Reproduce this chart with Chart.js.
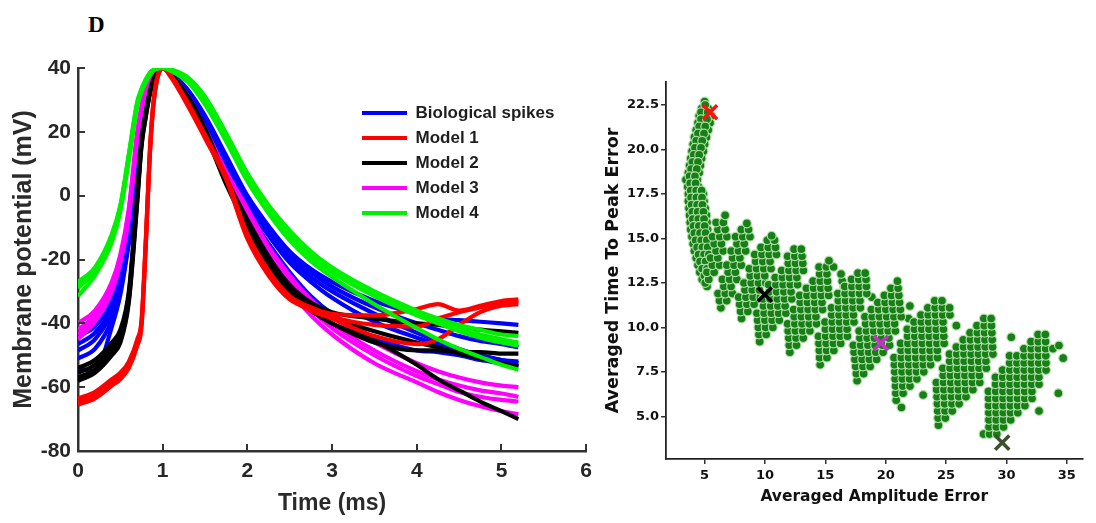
<!DOCTYPE html>
<html><head><meta charset="utf-8">
<script src="https://cdn.jsdelivr.net/npm/chart.js@4.4.0/dist/chart.umd.min.js"></script>
<style>
html,body{margin:0;padding:0;background:#fff;width:1096px;height:523px;overflow:hidden}
#left{position:absolute;left:0;top:0}
#right{position:absolute;left:600px;top:0}
#panel{position:absolute;left:88px;top:13px;font:bold 23px "Liberation Serif","DejaVu Serif",serif;color:#000;line-height:1}
</style></head><body>
<div id="panel">D</div>
<canvas id="left" width="600" height="523"></canvas>
<canvas id="right" width="496" height="523"></canvas>
<script>
// ---------------- Left panel: spike waveforms ----------------
const timeMs = [0, 0.2, 0.4, 0.5, 0.6, 0.7, 0.75, 0.8, 0.85, 0.9, 1.0, 1.1, 1.3, 1.5, 1.75, 2.0, 2.25, 2.5, 2.75, 3.0, 3.5, 4.0, 4.25, 4.5, 4.75, 5.0, 5.2];
const leftXTicks = [0, 1, 2, 3, 4, 5, 6];
const leftYTicks = [-80, -60, -40, -20, 0, 20, 40];

const bio1 = [-44, -41, -33, -25, -11, 7, 20, 29, 34.5, 37.5, 40, 38.5, 33, 25, 12.5, 0, -9.5, -17.5, -23, -27, -33, -37, -38.5, -39, -39.5, -40, -40.5];
const bio2 = [-46.5, -43, -35, -26.5, -12, 6, 19.5, 28.5, 34, 37.5, 40, 38.5, 33, 24.5, 11.5, -1, -10.5, -18.5, -24, -28.5, -35, -40, -42, -44, -45.5, -46.5, -47.5];
const bio3 = [-48.5, -45, -36.5, -28, -13, 5, 19, 28, 34, 37.5, 40, 38, 32, 24, 11, -2, -11.5, -19.5, -25.5, -30, -37, -43, -45.5, -48, -50, -51.5, -52.5];
const bio4 = [-51, -48, -39, -30, -14, 4, 18, 27.5, 33.5, 37, 40, 38, 31.5, 22.5, 8, -5, -15, -24, -31.5, -37, -44.5, -48.5, -49, -50, -51.5, -52.5, -53.5];
const bio5 = [-54, -55, -41, -31, -15, 3, 17, 27, 33.5, 37, 40, 38, 32, 23.5, 10.5, -3, -12.5, -21, -27, -32, -39.5, -44.5, -46.5, -48.5, -50, -51.5, -52];

const m1a = [-63.5, -61.5, -57.5, -55.5, -52, -45, -39, -14, 15, 31.5, 40, 37.5, 29, 19, 6, -12, -23.5, -31.5, -35, -37, -37.5, -35.5, -34, -36, -34.5, -33, -32.5];
const m1b = [-64.5, -62.5, -58.5, -56.5, -53, -46, -40, -15, 14, 31, 40, 37.5, 28.5, 18.5, 5.5, -13, -24.5, -32, -36, -38.5, -44, -46.5, -45, -40.5, -36.5, -34.5, -34];
const m1c = [-65.5, -63.5, -59.5, -57.5, -54, -47, -41, -16, 13.5, 30.5, 40, 37, 28, 18, 5, -13.5, -25, -32.5, -35.5, -38, -40.5, -41, -38.5, -36.5, -35, -33.5, -33];

const m2a = [-54, -51.5, -46, -42, -30, 1, 18, 26, 33, 37, 40, 38, 31, 21, 5.5, -7.5, -19, -28, -33.5, -36.5, -38.5, -40, -40.5, -41.5, -42, -42.5, -43];
const m2b = [-55.5, -53, -47.5, -43.5, -31, 0, 17, 25.5, 32.5, 36.5, 40, 38, 30.5, 20.5, 4.5, -9, -20.5, -29.5, -35, -38, -42.5, -46, -47.5, -49.5, -51, -52.5, -53.5];
const m2c = [-57, -54.5, -49, -45, -32.5, -1, 16, 25, 32.5, 36.5, 40, 38, 30, 20, 4, -9.5, -21, -30, -36, -40, -46, -48.5, -48.5, -49, -49, -49.5, -49.5];
const m2d = [-58, -55.5, -50, -46, -33.5, -2, 15.5, 24.5, 32, 36.5, 40, 37.5, 30, 19.5, 3.5, -10, -21.5, -30.5, -36, -40, -45.5, -53, -57.5, -61, -64.5, -67.5, -70];

const m3a = [-40, -36, -27, -18.5, -4, 20, 28, 34, 36.5, 38.5, 40, 38, 31, 21, 7.5, -4, -16, -25, -32.5, -38, -46, -52.5, -55, -57, -58.5, -59.5, -60];
const m3b = [-42, -37.5, -28, -19.5, -5, 19, 27.5, 33.5, 36.5, 38.5, 40, 38, 30.5, 20, 6.5, -5, -17, -26.5, -34, -40, -48.5, -55, -57.5, -59.5, -61, -62, -63];
const m3c = [-43.5, -38.5, -29, -20, -6, 18.5, 27, 33, 36, 38, 40, 37.5, 30, 19.5, 5.5, -6.5, -18.5, -29.5, -37.5, -43.5, -52.5, -58.5, -61.5, -64, -66, -67.5, -68.5];
const m3d = [-45, -39.5, -30, -21, -7, 18, 26.5, 32.5, 36, 38, 40, 37.5, 30.5, 20, 6, -5.5, -17.5, -27.5, -35.5, -41.5, -50, -56.5, -59, -61.5, -63, -64, -64.5];

const m4a = [-27, -22.5, -12, -3, 13, 29.5, 33.5, 36.5, 38.5, 39.5, 40, 39.5, 37, 31, 19.5, 7, -3, -11, -17.5, -22.5, -30, -36, -38.5, -40.5, -42, -43.5, -44];
const m4b = [-29, -23.5, -13, -4, 12, 28.5, 33, 36, 38, 39.5, 40, 39.5, 36, 29.5, 18, 6, -4, -12.5, -19, -24, -31.5, -37.5, -40, -42.5, -44.5, -46, -47];
const m4c = [-31.5, -25, -14.5, -5, 11, 28, 32.5, 35.5, 38, 39.5, 40, 39, 35.5, 28.5, 17, 4.5, -5.5, -14, -20.5, -25.5, -34, -41.5, -45, -48, -50.5, -53, -54.5];
const m4d = [-28, -23, -12.5, -3.5, 12.5, 29, 33, 36, 38.5, 39.5, 40, 39.5, 36.5, 30, 18.5, 6.5, -3.5, -12, -18.5, -23.5, -31, -37, -39.5, -41.5, -43.5, -45, -46];

const groupNames = ['Biological spikes', 'Model 1', 'Model 2', 'Model 3', 'Model 4'];

// ---------------- Right panel: error scatter ----------------
// each row: [y, x1, x2, ...]
const cloud1a = [[22.7,5.0],[22.3,4.75,5.3],[21.9,4.55,5.05,5.55],[21.5,4.45,4.95,5.45],[21.1,4.3,4.8,5.3],[20.7,4.15,4.65,5.15],[20.3,4.05,4.55,5.0],[19.9,3.95,4.45,4.9],[19.5,3.85,4.3,4.75],[19.1,3.75,4.2,4.65],[18.7,3.65,4.1,4.55],[18.3,3.45,3.9,4.4],[17.9,3.6,4.05,4.5],[17.5,3.65,4.1,4.55,4.9],[17.1,3.65,4.1,4.55,4.95],[16.7,3.7,4.15,4.6,5.05],[16.3,3.75,4.2,4.65,5.15],[15.9,3.8,4.25,4.7,5.2],[15.5,3.85,4.3,4.75,5.25],[15.1,3.95,4.4,4.85,5.3],[14.7,4.05,4.5,4.95,5.4],[14.3,4.15,4.6,5.05,5.45],[13.9,4.3,4.75,5.2],[13.5,4.45,4.9,5.35],[13.1,4.6,5.05,5.4],[12.7,4.8,5.25],[12.3,5.2]];
const cloud1b = [[22.5,5.05],[22.1,4.7,5.25],[21.7,4.7,5.2],[21.3,4.55,5.05],[20.9,4.45,4.95],[20.5,4.3,4.8],[20.1,4.2,4.7],[19.7,4.1,4.55],[19.3,3.98,4.45],[18.9,3.88,4.35],[18.5,3.75,4.2],[18.1,3.8,4.25],[17.7,3.85,4.3,4.75],[17.3,3.88,4.32,4.78],[16.9,3.92,4.38,4.82],[16.5,3.98,4.42,4.9],[16.1,4.02,4.48,4.95],[15.7,4.08,4.52,5.0],[15.3,4.15,4.62,5.08],[14.9,4.25,4.72,5.18],[14.5,4.38,4.82,5.25],[14.1,4.5,4.95,5.35],[13.7,4.62,5.08],[13.3,4.8,5.2],[12.9,4.98,5.35],[12.5,5.05]];
const cloud2 = [[12.7,5.34],[13.1,5.19,5.79],[13.5,5.64,6.24],[13.9,5.49,6.09],[14.3,5.94,6.54],[14.7,5.79,6.39],[15.1,5.65,6.25,6.85],[15.5,6.1,6.7],[15.9,5.95,6.55],[16.3,6.7]];
const cloud3 = [[11.1,6.35],[11.5,6.23,6.83],[11.9,6.11,6.71,7.31],[12.3,6.59,7.19],[12.7,6.47,7.07,7.67],[13.1,6.95,7.55],[13.5,6.84,7.44,8.04],[13.9,7.32,7.92],[14.3,7.2,7.8,8.4],[14.7,7.68,8.28],[15.1,7.56,8.16,8.76],[15.5,8.04,8.64],[15.85,8.5]];
const cloud4 = [[10.5,8.06],[10.9,7.98,8.58],[11.3,7.9,8.5,9.1],[11.7,7.82,8.42,9.02,9.62],[12.1,8.34,8.94,9.54],[12.5,8.26,8.86,9.46,10.06],[12.9,8.78,9.38,9.98],[13.3,8.7,9.3,9.9,10.5],[13.7,9.22,9.82,10.42],[14.1,9.15,9.75,10.35,10.95],[14.5,9.67,10.27,10.87],[14.9,10.19,10.79],[15.15,10.55]];
const cloud5 = [[9.2,9.56],[9.6,9.5,10.1],[10.0,9.45,10.05,10.65],[10.4,9.39,9.99,10.59,11.19],[10.8,9.33,9.93,10.53,11.13,11.73],[11.2,9.87,10.47,11.07,11.67],[11.6,9.82,10.42,11.02,11.62,12.22],[12.0,10.36,10.96,11.56,12.16],[12.4,10.3,10.9,11.5,12.1,12.7],[12.8,10.84,11.44,12.04,12.64],[13.2,11.38,11.98,12.58,13.18],[13.6,11.93,12.53,13.13],[14.0,11.87,12.47,13.07],[14.4,12.41,13.01]];
const cloud6 = [[8.6,12.06],[9.0,12.01,12.61],[9.4,11.97,12.57,13.17],[9.8,11.92,12.52,13.12,13.72],[10.2,11.87,12.47,13.07,13.67,14.27],[10.6,12.42,13.02,13.62,14.22],[11.0,12.37,12.97,13.57,14.17,14.77],[11.4,12.92,13.52,14.12,14.72],[11.8,12.88,13.48,14.08,14.68,15.28],[12.2,13.43,14.03,14.63,15.23],[12.3,16.55],[12.6,13.98,14.58,15.18,16.4],[13.0,14.53,15.13,16.3],[13.4,14.48,15.08,15.68],[13.75,15.3]];
const cloud7 = [[7.9,14.57],[8.3,14.53,15.13],[8.7,14.5,15.1,15.7],[9.1,14.47,15.07,15.67,16.27],[9.5,14.43,15.03,15.63,16.23,16.83],[9.9,15.0,15.6,16.2,16.8],[10.3,14.97,15.57,16.17,16.77,17.37],[10.7,15.53,16.13,16.73,17.33],[11.1,15.5,16.1,16.7,17.3,17.9],[11.5,16.07,16.67,17.27,17.87],[11.7,18.85],[11.9,16.03,16.63,17.23,17.83,18.43],[12.3,16.6,17.2,17.8,18.4],[12.7,17.17,17.77,18.37],[13.05,17.7,18.3]];
const cloud8 = [[7.0,17.63],[7.4,17.57,18.17],[7.8,17.51,18.11,18.71],[8.2,17.45,18.05,18.65,19.25],[8.6,17.38,17.98,18.58,19.18,19.78],[9.0,17.32,17.92,18.52,19.12,19.72,20.32,21.7],[9.4,17.86,18.46,19.06,19.66,20.26],[9.8,17.8,18.4,19.0,19.6,20.2,20.8],[10.2,18.34,18.94,19.54,20.14,20.74],[10.5,21.9],[10.6,18.28,18.88,19.48,20.08,20.68,21.28],[11.0,18.81,19.41,20.01,20.61,21.21],[11.2,22.0],[11.4,19.35,19.95,20.55,21.15],[11.8,19.89,20.49,21.09],[12.2,20.43,21.03],[12.6,20.97]];
const cloud9 = [[5.5,21.3],[5.9,20.87],[6.2,23.1],[6.3,20.84,21.44],[6.7,20.81,21.41,22.01],[7.1,20.78,21.38,21.98,22.58],[7.5,20.75,21.35,21.95,22.55,23.15],[7.9,20.72,21.32,21.92,22.52,23.12,23.72],[8.3,20.69,21.29,21.89,22.49,23.09,23.69,24.29],[8.7,21.27,21.87,22.47,23.07,23.67,24.27],[9.1,21.24,21.84,22.44,23.04,23.64,24.24,24.84],[9.5,21.81,22.41,23.01,23.61,24.21,24.81],[9.9,21.78,22.38,22.98,23.58,24.18,24.78],[10.1,25.85],[10.3,22.35,22.95,23.55,24.15,24.75],[10.7,22.92,23.52,24.12,24.72,25.32],[11.1,23.49,24.09,24.69,25.29],[11.5,24.06,24.66]];
const cloud10 = [[4.5,24.37],[4.9,24.34,24.94],[5.3,24.31,24.91,25.51],[5.7,24.28,24.88,25.48,26.08],[6.1,24.25,24.85,25.45,26.05,26.65],[6.5,24.22,24.82,25.42,26.02,26.62,27.22],[6.9,24.19,24.79,25.39,25.99,26.59,27.19,27.79],[7.3,24.76,25.36,25.96,26.56,27.16,27.76],[7.7,24.73,25.33,25.93,26.53,27.13,27.73,28.33],[8.1,25.3,25.9,26.5,27.1,27.7,28.3],[8.5,25.28,25.88,26.48,27.08,27.68,28.28,28.88],[8.9,25.85,26.45,27.05,27.65,28.25,28.85],[9.3,26.42,27.02,27.62,28.22,28.82],[9.45,30.4],[9.7,26.99,27.59,28.19,28.79],[10.1,27.56,28.16,28.76],[10.5,28.13,28.73]];
const cloud11 = [[4.0,28.1,28.6,29.2],[4.4,28.56,29.16,29.76],[4.8,28.55,29.15,29.75,30.35],[5.2,28.54,29.14,29.74,30.34,30.94],[5.3,32.7],[5.6,28.53,29.13,29.73,30.33,30.93,31.53],[6.0,28.52,29.12,29.72,30.32,30.92,31.52,32.12],[6.3,34.3],[6.4,28.51,29.11,29.71,30.31,30.91,31.51,32.11],[6.8,29.1,29.7,30.3,30.9,31.5,32.1,32.7],[7.2,29.09,29.69,30.29,30.89,31.49,32.09,32.69],[7.6,29.68,30.28,30.88,31.48,32.08,32.68,33.28],[8.0,30.27,30.87,31.47,32.07,32.67,33.27],[8.27,34.7],[8.4,30.26,30.86,31.46,32.06,32.66,33.26],[8.8,31.45,32.05,32.65,33.25,33.85],[8.98,34.35],[9.2,32.04,32.64,33.24],[9.6,32.62,33.22]];

const markerX = [5.45, 9.98, 19.6, 29.65];
const markerY = [22.1, 11.85, 9.12, 3.52];
const rightXTicks = [5, 10, 15, 20, 25, 30, 35];
const rightYTicks = [5.0, 7.5, 10.0, 12.5, 15.0, 17.5, 20.0, 22.5];

// ---------------- build left chart ----------------
const SANS = "'Liberation Sans', Arial, Helvetica, sans-serif";
function traces(name, color, list) {
  return list.map((vals, i) => ({
    label: name,
    legendEntry: i === 0,
    data: vals.map((v, j) => ({x: timeMs[j], y: v})),
    borderColor: color,
    backgroundColor: color,
    borderWidth: 4.2,
    pointRadius: 0,
    cubicInterpolationMode: 'monotone',
    fill: false
  }));
}
const leftDatasets = [].concat(
  traces(groupNames[4], '#00f000', [m4a, m4b, m4c, m4d]),
  traces(groupNames[1], '#ff0000', [m1a, m1b, m1c]),
  traces(groupNames[2], '#000000', [m2a, m2b, m2c, m2d]),
  traces(groupNames[3], '#ff00ff', [m3a, m3b, m3c, m3d]),
  traces(groupNames[0], '#0000ff', [bio1, bio2, bio3, bio4, bio5])
);

const inwardTicks = {
  id: 'inwardTicks',
  afterDraw(chart) {
    const {ctx, chartArea: a, scales: {x, y}} = chart;
    ctx.save();
    ctx.strokeStyle = '#333';
    ctx.lineWidth = 2;
    ctx.beginPath();
    y.ticks.forEach(t => { const p = Math.round(y.getPixelForValue(t.value)); ctx.moveTo(a.left, p); ctx.lineTo(a.left + 7, p); });
    x.ticks.forEach(t => { const p = Math.round(x.getPixelForValue(t.value)); ctx.moveTo(p, a.bottom); ctx.lineTo(p, a.bottom - 7); });
    ctx.stroke();
    ctx.restore();
  }
};
const placeLegend = {
  id: 'placeLegend',
  afterLayout(chart) {
    const lg = chart.legend;
    if (!lg) return;
    lg.left = 354; lg.top = 96.5; lg.width = 240; lg.height = 150;
    lg.right = lg.left + lg.width; lg.bottom = lg.top + lg.height;
  }
};

new Chart(document.getElementById('left'), {
  type: 'line',
  data: {datasets: leftDatasets},
  plugins: [inwardTicks, placeLegend],
  options: {
    responsive: false, animation: false, devicePixelRatio: 1,
    layout: {padding: {left: 0, top: 68, right: 8, bottom: 0}},
    plugins: {
      tooltip: {enabled: false},
      legend: {
        position: 'chartArea', align: 'start',
        labels: {
          usePointStyle: true, pointStyle: 'line', pointStyleWidth: 45, padding: 8,
          color: '#1e1e1e', font: {family: SANS, size: 17, weight: 'bold'},
          filter: (item, data) => data.datasets[item.datasetIndex].legendEntry,
          sort: (a, b) => groupNames.indexOf(a.text) - groupNames.indexOf(b.text)
        }
      }
    },
    scales: {
      x: {
        type: 'linear', min: 0, max: 6,
        afterBuildTicks: s => { s.ticks = leftXTicks.map(v => ({value: v})); },
        afterFit: s => { s.height = 72; },
        grid: {display: true, drawOnChartArea: false, drawTicks: false},
        border: {display: true, color: '#333', width: 2.5},
        ticks: {padding: 8, color: '#262626', font: {family: SANS, size: 21, weight: 'bold'}, maxRotation: 0},
        title: {display: true, text: 'Time (ms)', color: '#2a2a2a', font: {family: SANS, size: 23, weight: 'bold'}, padding: {top: 0, bottom: 6}}
      },
      y: {
        type: 'linear', min: -80, max: 40,
        afterBuildTicks: s => { s.ticks = leftYTicks.map(v => ({value: v})); },
        afterFit: s => { s.width = 78; },
        grid: {display: true, drawOnChartArea: false, drawTicks: false},
        border: {display: true, color: '#333', width: 2.5},
        ticks: {padding: 7, color: '#262626', font: {family: SANS, size: 21, weight: 'bold'}},
        title: {display: true, text: 'Membrane potential (mV)', color: '#2a2a2a', font: {family: SANS, size: 25, weight: 'bold'}, padding: {top: 9, bottom: 0}}
      }
    }
  }
});

// ---------------- build right chart ----------------
const DEJ = "'DejaVu Sans', Verdana, sans-serif";
function rowsToPoints(rows) {
  return rows.flatMap(r => r.slice(1).map(x => ({x: x, y: r[0]})));
}
const cloudPoints = [cloud1a, cloud1b, cloud2, cloud3, cloud4, cloud5, cloud6, cloud7, cloud8, cloud9, cloud10, cloud11].flatMap(rowsToPoints);
const markerColors = ['#ff1010', '#000000', '#c930c9', '#3e4f30'];
const markerSets = markerX.map((x, i) => ({
  data: [{x: x, y: markerY[i]}],
  pointStyle: 'crossRot', pointRadius: 10, pointBorderWidth: 3.5,
  pointBorderColor: markerColors[i], pointBackgroundColor: markerColors[i], order: 0
}));

new Chart(document.getElementById('right'), {
  type: 'scatter',
  data: {datasets: markerSets.concat([{
    data: cloudPoints, pointRadius: 4.4,
    pointBackgroundColor: 'rgb(24,126,24)', pointBorderColor: 'rgba(178,224,168,0.95)', pointBorderWidth: 1.2,
    order: 2
  }])},
  options: {
    responsive: false, animation: false, devicePixelRatio: 1,
    layout: {padding: {left: 0, top: 82, right: 3, bottom: 0}},
    plugins: {legend: {display: false}, tooltip: {enabled: false}},
    scales: {
      x: {
        type: 'linear', min: 1.8, max: 36.3,
        afterBuildTicks: s => { s.ticks = rightXTicks.map(v => ({value: v})); },
        afterFit: s => { s.height = 64; },
        grid: {display: true, drawOnChartArea: false, drawTicks: true, tickLength: 5, color: '#333', lineWidth: 1.5},
        border: {display: true, color: '#222', width: 1.8},
        ticks: {padding: 4, color: '#111', font: {family: DEJ, size: 13, weight: 'bold'}, maxRotation: 0},
        title: {display: true, text: 'Averaged Amplitude Error', color: '#111', font: {family: DEJ, size: 15.5, weight: 'bold'}, padding: {top: 0, bottom: 17}}
      },
      y: {
        type: 'linear', min: 2.6, max: 23.8,
        afterBuildTicks: s => { s.ticks = rightYTicks.map(v => ({value: v})); },
        afterFit: s => { s.width = 66; },
        grid: {display: true, drawOnChartArea: false, drawTicks: true, tickLength: 5, color: '#333', lineWidth: 1.5},
        border: {display: true, color: '#222', width: 1.8},
        ticks: {padding: 2, color: '#111', font: {family: DEJ, size: 13, weight: 'bold'}, callback: v => Number(v).toFixed(1)},
        title: {display: true, text: 'Averaged Time To Peak Error', color: '#111', font: {family: DEJ, size: 17.5, weight: 'bold'}, padding: {top: 2.5, bottom: 0}}
      }
    }
  }
});
</script></body></html>
